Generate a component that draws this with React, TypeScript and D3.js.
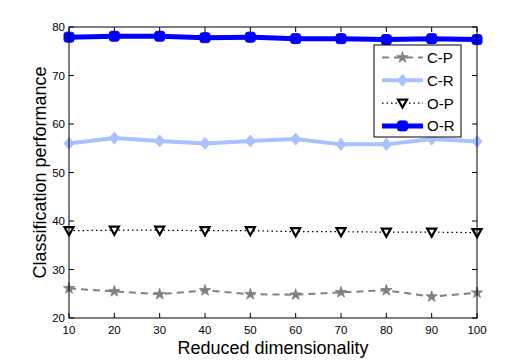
import React from 'react';
import * as d3 from 'd3';

const dims = [10, 20, 30, 40, 50, 60, 70, 80, 90, 100];
const cpValues = [26.1, 25.5, 24.9, 25.7, 24.9, 24.8, 25.3, 25.7, 24.4, 25.2];
const crValues = [56.0, 57.1, 56.5, 56.0, 56.5, 56.9, 55.8, 55.8, 56.9, 56.4];
const opValues = [38.0, 38.1, 38.1, 38.0, 38.0, 37.8, 37.8, 37.7, 37.7, 37.6];
const orValues = [77.9, 78.1, 78.1, 77.8, 77.9, 77.6, 77.6, 77.4, 77.6, 77.4];
const yTicks = [20, 30, 40, 50, 60, 70, 80];
const seriesNames = ['C-P', 'C-R', 'O-P', 'O-R'];

const W = 527, H = 360;
const margin = { top: 27, right: 50, bottom: 42, left: 69 };
const font = "'Liberation Sans', Arial, Helvetica, sans-serif";

type Series = { name: string; values: number[]; color: string; width: number; dash?: string; marker: string };

const series: Series[] = [
  { name: seriesNames[0], values: cpValues, color: '#808080', width: 2, dash: '7,5', marker: 'star' },
  { name: seriesNames[1], values: crValues, color: '#a8c2ff', width: 4, marker: 'diamond' },
  { name: seriesNames[2], values: opValues, color: '#000000', width: 1.2, dash: '1.5,3', marker: 'tri' },
  { name: seriesNames[3], values: orValues, color: '#0000ff', width: 5, marker: 'square' },
];

function Marker({ s, x, y }: { s: Series; x: number; y: number }) {
  if (s.marker === 'square') {
    return <rect x={x - 5} y={y - 5} width={10} height={10} rx={2.5} fill={s.color} stroke={s.color} strokeWidth={1} />;
  }
  if (s.marker === 'diamond') {
    return <path d={`M${x},${y - 6}L${x + 5},${y}L${x},${y + 6}L${x - 5},${y}Z`} fill={s.color} stroke={s.color} strokeWidth={1} />;
  }
  if (s.marker === 'tri') {
    return <path d={`M${x - 4.5},${y - 3.5}L${x + 4.5},${y - 3.5}L${x},${y + 4.5}Z`} fill="#fff" stroke="#000" strokeWidth={2.2} />;
  }
  const star = d3.symbol(d3.symbolStar, 40)();
  return <path d={star || ''} transform={`translate(${x},${y})`} fill={s.color} stroke={s.color} strokeWidth={0.8} />;
}

export default function App() {
  const x = d3.scaleLinear().domain([10, 100]).range([margin.left, W - margin.right]);
  const y = d3.scaleLinear().domain([20, 80]).range([H - margin.bottom, margin.top]);
  const [x0, x1] = x.range();
  const [y0, y1] = y.range();
  const line = (vals: number[]) => d3.line<number>().x((_, i) => x(dims[i])).y(d => y(d))(vals) || '';
  const tl = 5;

  const lx = 374, ly = 45, lw = 87, lh = 92;

  return (
    <svg width={W} height={H} style={{ position: 'absolute', left: 0, top: 0, background: '#fff' }} fontFamily={font}>
      <rect x={0} y={0} width={W} height={H} fill="#fff" />
      {series.map(s => (
        <g key={s.name}>
          <path d={line(s.values)} fill="none" stroke={s.color} strokeWidth={s.width} strokeDasharray={s.dash} strokeLinejoin="round" />
          {s.values.map((v, i) => <Marker key={i} s={s} x={x(dims[i])} y={y(v)} />)}
        </g>
      ))}
      {/* axes box with inward ticks */}
      <rect x={x0} y={y1} width={x1 - x0} height={y0 - y1} fill="none" stroke="#000" strokeWidth={1} />
      {dims.map(d => (
        <g key={d}>
          <line x1={x(d)} x2={x(d)} y1={y0} y2={y0 - tl} stroke="#000" />
          <line x1={x(d)} x2={x(d)} y1={y1} y2={y1 + tl} stroke="#000" />
          <text x={x(d)} y={y0 + 16} textAnchor="middle" fontSize={11.5}>{d}</text>
        </g>
      ))}
      {yTicks.map(t => (
        <g key={t}>
          <line x1={x0} x2={x0 + tl} y1={y(t)} y2={y(t)} stroke="#000" />
          <line x1={x1} x2={x1 - tl} y1={y(t)} y2={y(t)} stroke="#000" />
          <text x={x0 - 4} y={y(t) + 4} textAnchor="end" fontSize={11.5}>{t}</text>
        </g>
      ))}
      <text x={(x0 + x1) / 2} y={354} textAnchor="middle" fontSize={18}>Reduced dimensionality</text>
      <text transform={`translate(46,${(y0 + y1) / 2}) rotate(-90)`} textAnchor="middle" fontSize={18}>Classification performance</text>
      {/* legend */}
      <rect x={lx} y={ly} width={lw} height={lh} fill="#fff" stroke="#000" strokeWidth={1} />
      {series.map((s, i) => {
        const yy = ly + 12.5 + i * 22.8;
        return (
          <g key={s.name}>
            <line x1={lx + 8} x2={lx + 49} y1={yy} y2={yy} stroke={s.color} strokeWidth={s.width} strokeDasharray={s.dash} />
            <Marker s={s} x={lx + 28.5} y={yy} />
            <text x={lx + 53} y={yy + 5.5} fontSize={15}>{s.name}</text>
          </g>
        );
      })}
    </svg>
  );
}
